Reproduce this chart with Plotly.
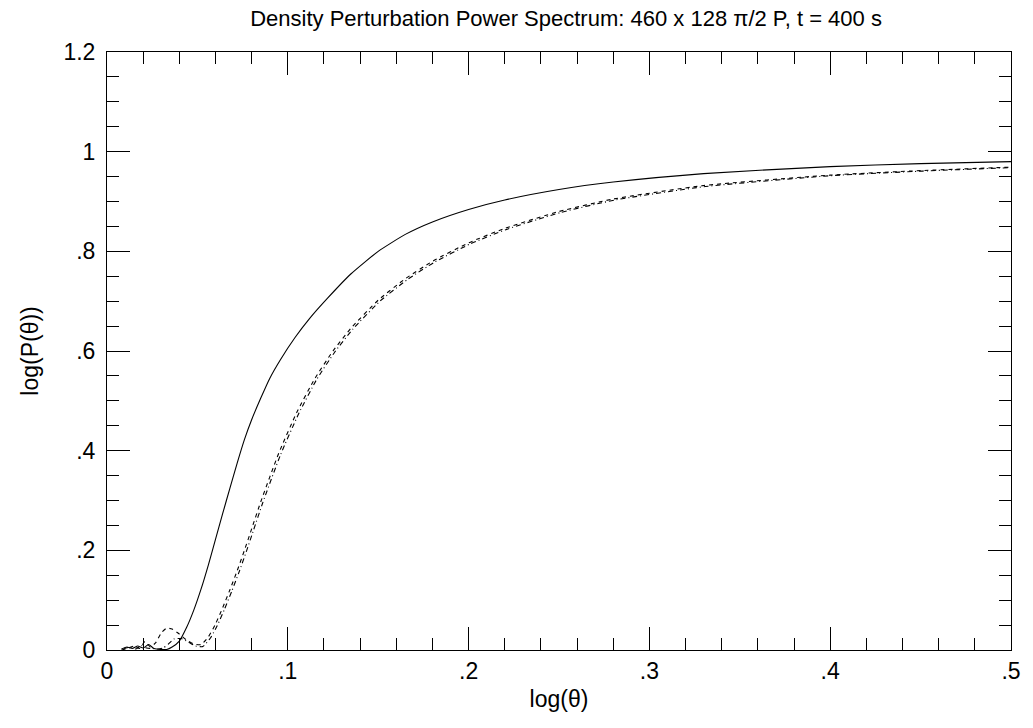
import plotly.graph_objects as go

# ---- data ----
solid_x = [0.008, 0.011, 0.014, 0.017, 0.020, 0.023, 0.026, 0.030, 0.033, 0.036, 0.040, 0.044,
           0.048, 0.052, 0.056, 0.060, 0.064, 0.068, 0.072, 0.076, 0.080, 0.085, 0.090, 0.096,
           0.104, 0.112, 0.122, 0.135, 0.150, 0.165, 0.180, 0.200, 0.220, 0.250, 0.280, 0.330,
           0.400, 0.450, 0.500]
solid_y = [0.002, 0.006, 0.003, 0.008, 0.004, 0.011, 0.003, 0.001, 0.001, 0.006, 0.018, 0.045,
           0.080, 0.122, 0.170, 0.222, 0.274, 0.325, 0.375, 0.422, 0.462, 0.505, 0.545, 0.583,
           0.627, 0.665, 0.706, 0.755, 0.800, 0.834, 0.859, 0.884, 0.903, 0.924, 0.939, 0.956,
           0.970, 0.976, 0.980]

dash_x = [0.008, 0.012, 0.015, 0.018, 0.021, 0.024, 0.027, 0.030, 0.033, 0.036, 0.040, 0.044,
          0.048, 0.052, 0.056, 0.060, 0.064, 0.068, 0.072, 0.076, 0.080, 0.085, 0.095, 0.105,
          0.115, 0.125, 0.135, 0.150, 0.165, 0.180, 0.200, 0.220, 0.250, 0.280, 0.330, 0.400,
          0.450, 0.500]
dash_y = [0.000, 0.004, 0.008, 0.003, 0.017, 0.006, 0.015, 0.034, 0.044, 0.042, 0.032, 0.020,
          0.012, 0.011, 0.026, 0.052, 0.085, 0.121, 0.159, 0.200, 0.243, 0.297, 0.395, 0.477,
          0.545, 0.600, 0.646, 0.702, 0.745, 0.780, 0.817, 0.846, 0.880, 0.905, 0.932, 0.953,
          0.962, 0.969]

dot_x = [0.009, 0.013, 0.016, 0.019, 0.022, 0.025, 0.028, 0.031, 0.034, 0.037, 0.041, 0.045,
         0.049, 0.053, 0.057, 0.061, 0.065, 0.069, 0.073, 0.077, 0.081, 0.086, 0.096, 0.106,
         0.116, 0.126, 0.136, 0.151, 0.166, 0.181, 0.201, 0.221, 0.251, 0.281, 0.331, 0.401,
         0.451, 0.500]
dot_y = [0.002, 0.006, 0.002, 0.009, 0.004, 0.003, 0.002, 0.004, 0.012, 0.022, 0.023, 0.016,
         0.008, 0.007, 0.023, 0.049, 0.082, 0.118, 0.156, 0.197, 0.240, 0.294, 0.392, 0.474,
         0.543, 0.598, 0.644, 0.700, 0.743, 0.778, 0.815, 0.844, 0.878, 0.903, 0.930, 0.952,
         0.961, 0.968]

x_tickvals = [0, 0.1, 0.2, 0.3, 0.4, 0.5]
x_ticktext = ["0", ".1", ".2", ".3", ".4", ".5"]
y_tickvals = [0, 0.2, 0.4, 0.6, 0.8, 1.0, 1.2]
y_ticktext = ["0", ".2", ".4", ".6", ".8", "1", "1.2"]

title = "Density Perturbation Power Spectrum: 460 x 128 π/2 P, t = 400 s"

FONT = "Liberation Sans, Arial, sans-serif"

fig = go.Figure()
fig.add_trace(go.Scatter(x=solid_x, y=solid_y, mode="lines",
                         line=dict(color="black", width=1.1, shape="spline", smoothing=0.5)))
fig.add_trace(go.Scatter(x=dash_x, y=dash_y, mode="lines",
                         line=dict(color="black", width=1.1, dash="4px,4px", shape="spline", smoothing=0.5)))
fig.add_trace(go.Scatter(x=dot_x, y=dot_y, mode="lines",
                         line=dict(color="black", width=1.1, dash="5px,3px,1px,3px", shape="spline", smoothing=0.5)))

axis_common = dict(showgrid=False, zeroline=False, showline=True, linecolor="black", linewidth=1,
                   ticks="inside", tickcolor="black", tickwidth=1, ticklen=23, mirror="allticks",
                   tickfont=dict(family=FONT, size=23, color="black"))

fig.update_xaxes(range=[0, 0.5], tickmode="array", tickvals=x_tickvals, ticktext=x_ticktext,
                 minor=dict(dtick=0.02, tick0=0, ticks="inside", ticklen=12, tickcolor="black", tickwidth=1),
                 title=dict(text="log(θ)", font=dict(family=FONT, size=23, color="black"), standoff=8),
                 ticklabelstandoff=0, **axis_common)
fig.update_yaxes(range=[0, 1.2], tickmode="array", tickvals=y_tickvals, ticktext=y_ticktext,
                 minor=dict(dtick=0.05, tick0=0, ticks="inside", ticklen=12, tickcolor="black", tickwidth=1),
                 title=dict(text="log(P(θ))", font=dict(family=FONT, size=23, color="black"), standoff=18),
                 ticklabelstandoff=6, **axis_common)

fig.update_layout(
    width=1033, height=728,
    margin=dict(l=107, r=16, t=52, b=78),
    paper_bgcolor="white", plot_bgcolor="white",
    showlegend=False,
    title=dict(text=title, x=0.548, xanchor="center", y=0.975, yanchor="middle",
               font=dict(family=FONT, size=22, color="black")),
)

fig.write_html("out.html")
